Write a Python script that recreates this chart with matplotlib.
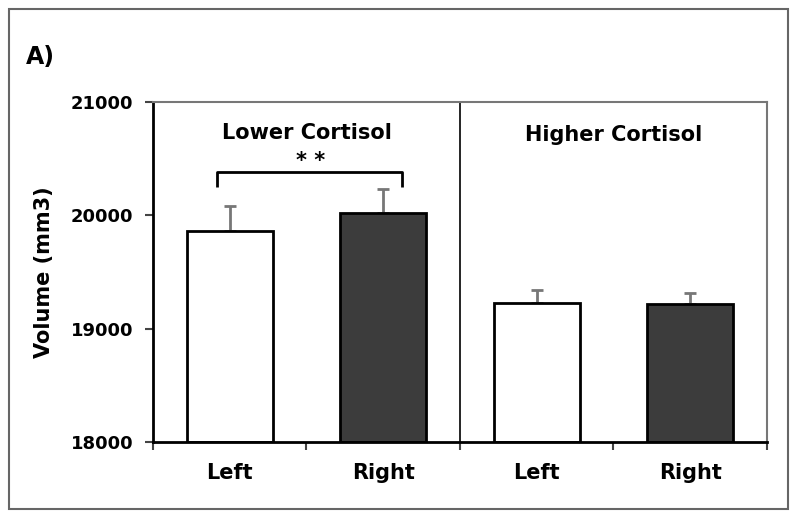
import matplotlib
matplotlib.use("Agg")
import matplotlib.pyplot as plt
from matplotlib.patches import Rectangle

categories = ["Left", "Right", "Left", "Right"]
means = [19860, 20020, 19230, 19215]
errors = [220, 215, 115, 100]
fills = ["white", "#3c3c3c", "white", "#3c3c3c"]
groups = ["Lower Cortisol", "Higher Cortisol"]
yticks = [18000, 19000, 20000, 21000]

fig = plt.figure(figsize=(7.98, 5.2), dpi=100)
fig.patches.append(Rectangle((0.011, 0.022), 0.976, 0.96, transform=fig.transFigure,
                             fill=False, edgecolor="#666666", linewidth=1.5))
ax = fig.add_axes([0.1917, 0.15, 0.7693, 0.6538])

x = list(range(len(categories)))
ax.bar(x, [m - 18000 for m in means], bottom=18000, width=0.56, color=fills,
       edgecolor="black", linewidth=2, zorder=2)
ax.errorbar(x, means, yerr=[[0]*len(errors), errors], fmt="none", ecolor="#777777",
            elinewidth=2, capsize=4.5, capthick=2, zorder=1)

ax.set_xlim(-0.5, 3.5)
ax.set_ylim(18000, 21000)
ax.set_yticks(yticks)
ax.set_yticklabels([str(t) for t in yticks], fontsize=13, fontweight="bold")
ax.set_xticks([-0.5, 0.5, 1.5, 2.5, 3.5], minor=False)
ax.set_xticklabels([])
ax.set_xticks(x, minor=True)
ax.set_xticklabels(categories, minor=True, fontsize=15, fontweight="bold")
ax.tick_params(axis="x", which="minor", length=0, pad=15)
ax.tick_params(axis="x", which="major", length=6, width=1.5, color="#444444", direction="out")
ax.tick_params(axis="y", length=6, width=1.5, color="#444444", pad=8)
ax.set_ylabel("Volume (mm3)", fontsize=15, fontweight="bold", labelpad=12)

ax.spines["left"].set_linewidth(2)
ax.spines["bottom"].set_linewidth(2)
ax.spines["top"].set_color("#777777")
ax.spines["top"].set_linewidth(1.5)
ax.spines["right"].set_color("#777777")
ax.spines["right"].set_linewidth(1.5)

ax.axvline(1.5, color="black", linewidth=1.2)

ax.text(0.5, 20730, groups[0], ha="center", va="center", fontsize=15, fontweight="bold")
ax.text(2.5, 20710, groups[1], ha="center", va="center", fontsize=15, fontweight="bold")

ax.plot([-0.08, -0.08, 1.125, 1.125], [20250, 20382, 20382, 20250], color="black",
        linewidth=2, solid_joinstyle="round", solid_capstyle="butt")
ax.text(0.53, 20480, "* *", ha="center", va="center", fontsize=15, fontweight="bold")

fig.text(0.032, 0.89, "A)", fontsize=17, fontweight="bold", ha="left", va="center")

fig.savefig("out.png", dpi=100)
